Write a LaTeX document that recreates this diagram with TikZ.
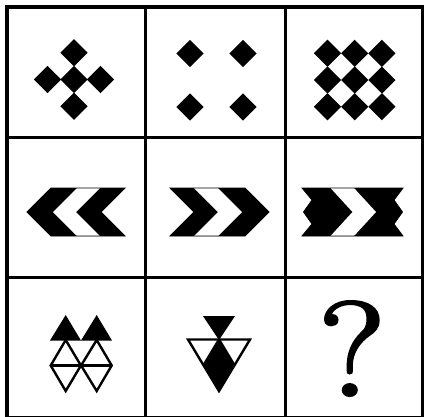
\documentclass[tikz,border=0pt]{standalone}
\usepackage{fontspec}
\newfontfamily\qfont{Latin Modern Roman}[FakeBold=2.2]
\begin{document}
\begin{tikzpicture}[x=1pt,y=-1pt,
  outerline/.style={line width=4pt},
  gridline/.style={line width=3pt},
  outl/.style={line width=2.4pt,line join=miter},
  bandline/.style={line width=0.8pt,line join=miter},
  dia/.pic={\fill (-13.6,0) -- (0,-13.6) -- (13.6,0) -- (0,13.6) -- cycle;}]
\useasboundingbox (0,0) rectangle (424,416);
\fill[white] (0,0) rectangle (424,416);
% grid
\draw[outerline] (7,7) rectangle (423,417.5);
\draw[gridline] (145.7,7) -- (145.7,417.5);
\draw[gridline] (285,7) -- (285,417.5);
\draw[gridline] (7,137.5) -- (423,137.5);
\draw[gridline] (7,277.5) -- (423,277.5);
% cell 1,1 : cross of diamonds
\foreach \p in {(74,52.7),(47.5,79.5),(74,79.5),(100.5,79.5),(74,106.3)}
  \pic at \p {dia};
% cell 1,2 : four diamonds
\foreach \p in {(190,53.5),(243,53.5),(190,107),(243,107)}
  \pic at \p {dia};
% cell 1,3 : 3x3 diamonds
\foreach \i in {0,1,2}
  \foreach \j in {0,1,2}
    \pic at ({327.5+27.2*\i},{53.3+26.7*\j}) {dia};
% cell 2,1 : left chevrons
\fill (27,212) -- (51,188) -- (125,188) -- (101,212) -- (125,236) -- (51,236) -- cycle;
\fill[white] (53,212) -- (77,188) -- (100,188) -- (76,212) -- (100,236) -- (77,236) -- cycle;
\draw[bandline] (27,212) -- (51,188) -- (125,188) -- (101,212) -- (125,236) -- (51,236) -- cycle;
% cell 2,2 : right chevrons
\fill (170,188) -- (245,188) -- (269,212) -- (245,236) -- (170,236) -- (194,212) -- cycle;
\fill[white] (194,188) -- (218,188) -- (242,212) -- (218,236) -- (194,236) -- (218,212) -- cycle;
\draw[bandline] (170,188) -- (245,188) -- (269,212) -- (245,236) -- (170,236) -- (194,212) -- cycle;
% cell 2,3 : zigzag band with white chevron
\fill (302,188) -- (312,200) -- (303.5,212) -- (312,224) -- (302,236) -- (403,236) -- (394,224) -- (402.5,212) -- (394,200) -- (403,188) -- cycle;
\fill[white] (330.5,188) -- (354,188) -- (376,212) -- (354,236) -- (330.5,236) -- (352.5,212) -- cycle;
\draw[bandline] (302,188) -- (312,200) -- (303.5,212) -- (312,224) -- (302,236) -- (403,236) -- (394,224) -- (402.5,212) -- (394,200) -- (403,188) -- cycle;
% cell 3,1
\draw[outl] (65.7,340) -- (50.7,365.5) -- (65.7,391) -- (80.9,365.5) -- cycle;
\draw[outl] (96.7,340) -- (81.1,365.5) -- (96.7,391) -- (111.7,365.5) -- cycle;
\draw[outl] (50.7,365.5) -- (111.7,365.5);
\fill (50,340.5) -- (65.7,315) -- (81,340.5) -- (96.7,315) -- (112,340.5) -- cycle;
% cell 3,2
\fill (219,339.5) -- (203.5,365.3) -- (219,391) -- (234.5,365.3) -- cycle;
\draw[outl] (188,339.5) -- (250,339.5) -- (219,391) -- cycle;
\draw[outl] (203.5,365.3) -- (234.5,365.3);
\draw[outl] (203.5,365.3) -- (219,339.5) -- (234.5,365.3);
\fill (203,316) -- (235,316) -- (219,340) -- cycle;
% cell 3,3
\node[inner sep=0pt] (q) at (352,348.5) {\scalebox{1.15}[1]{\qfont\fontsize{134}{134}\selectfont ?}};
\end{tikzpicture}
\end{document}
